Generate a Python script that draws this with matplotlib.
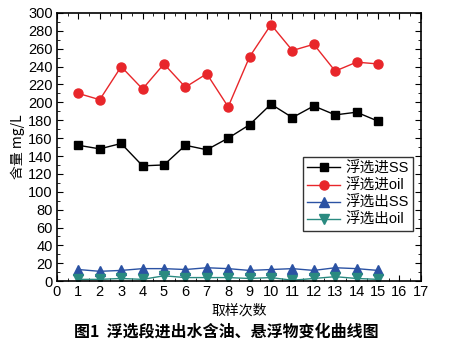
import numpy as np
import matplotlib.pyplot as plt
from matplotlib.ticker import MultipleLocator

plt.rcParams['font.family'] = ['Liberation Sans', 'Noto Sans CJK SC']

x = np.arange(1, 16)
in_ss = [152, 148, 154, 129, 130, 152, 147, 160, 175, 198, 183, 196, 186, 189, 179]
in_oil = [210, 203, 240, 215, 243, 217, 232, 195, 251, 287, 258, 265, 235, 245, 243]
out_ss = [13, 11, 12, 14, 14, 13, 15, 14, 12, 13, 14, 12, 15, 14, 12]
out_oil = [2, 2, 3, 2, 6, 4, 4, 4, 3, 4, 1, 3, 5, 3, 2]
labels = ['浮选进SS', '浮选进oil', '浮选出SS', '浮选出oil']

fig = plt.figure(figsize=(4.52, 3.51), dpi=100)
ax = fig.add_axes([0.126, 0.199, 0.805, 0.764])

ax.plot(x, in_ss, color='black', marker='s', markersize=5.5, linewidth=1, label=labels[0])
ax.plot(x, in_oil, color='#e8262a', marker='o', markersize=6.5, linewidth=1, label=labels[1])
ax.plot(x, out_ss, color='#2b52a3', marker='^', markersize=6.5, linewidth=1, label=labels[2])
ax.plot(x, out_oil, color='#2a8a80', marker='v', markersize=6.5, linewidth=1, label=labels[3])

ax.set_xlim(0, 17)
ax.set_ylim(0, 300)
ax.xaxis.set_major_locator(MultipleLocator(1))
ax.xaxis.set_minor_locator(MultipleLocator(0.5))
ax.yaxis.set_major_locator(MultipleLocator(20))
ax.yaxis.set_minor_locator(MultipleLocator(10))
ax.tick_params(which='both', direction='in', top=True, right=True, labelsize=10.5, pad=3)
ax.tick_params(which='major', length=4)
ax.tick_params(which='minor', length=2)
for s in ax.spines.values():
    s.set_linewidth(1.2)

ax.set_xlabel('取样次数', fontsize=10, family=['Noto Sans CJK SC'], labelpad=3)
ax.set_ylabel('含量 mg/L', fontsize=10, family=['Noto Sans CJK SC', 'DejaVu Serif'], labelpad=2)

leg = ax.legend(loc='lower right', bbox_to_anchor=(0.999, 0.159), frameon=True,
                fancybox=False, edgecolor='black', handlelength=2.2, borderpad=0.3,
                labelspacing=0.2, handletextpad=0.4,
                prop={'family': ['Liberation Sans', 'Noto Sans CJK SC'], 'size': 10.5})
leg.get_frame().set_linewidth(1)

fig.text(0.5, 0.055, '图1  浮选段进出水含油、悬浮物变化曲线图', ha='center', va='center',
         fontsize=11.5, fontweight='bold', family=['Noto Sans CJK SC'])

fig.savefig('out.png', dpi=100)
